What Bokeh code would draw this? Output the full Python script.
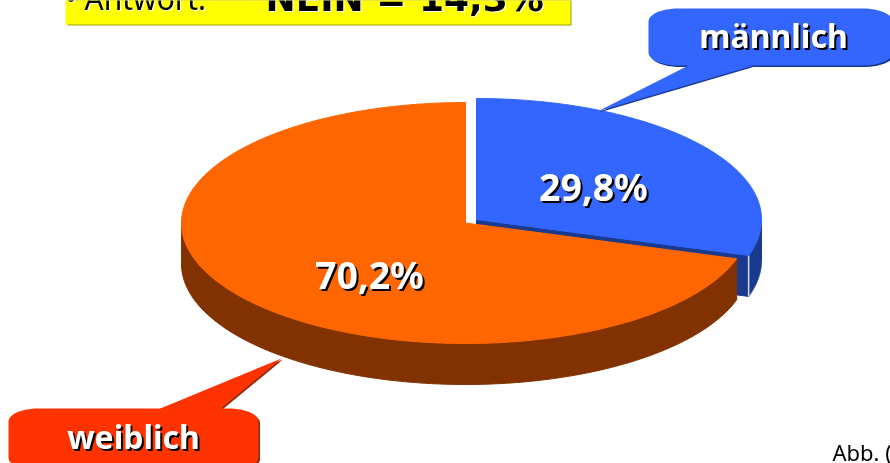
import numpy as np
from bokeh.plotting import figure
from bokeh.models import Range1d
from bokeh.core.properties import value
from bokeh.embed import file_html
from bokeh.resources import INLINE

categories = ["männlich", "weiblich"]
shares = [29.8, 70.2]
share_labels = ["29,8%", "70,2%"]
answer_label = "• Antwort:"
answer_value = "NEIN = 14,3%"
caption = "Abb. ("

BLUE, BLUE_DARK = "#3366ff", "#1a3a8e"
ORANGE, ORANGE_DARK = "#ff6600", "#823200"
RED = "#ff3300"
W, H = 890, 463

p = figure(width=W, height=H, output_backend="svg", toolbar_location=None,
           x_range=Range1d(0, W), y_range=Range1d(H, 0), min_border=0,
           x_axis_type=None, y_axis_type=None, background_fill_color="white",
           border_fill_color="white", outline_line_color=None)
p.grid.visible = False
p.styles = {"position": "fixed", "left": "0", "top": "0"}

def rim(cx, cy, rx, ry, a0, a1, dy=0, n=160):
    """Points on an ellipse; angles are clockwise from 12 o'clock, in degrees."""
    t = np.radians(np.linspace(a0, a1, n))
    return cx + rx * np.sin(t), cy - ry * np.cos(t) + dy

split = 360 * shares[0] / sum(shares)
DEPTH = 41
bc = (476, 219, 285, 121)   # blue slice: pulled out slightly
oc = (465, 222.5, 284, 120.5)

# --- side walls (back to front)
x1, y1 = rim(*bc, 90, split)
x2, y2 = rim(*bc, split, 90, dy=DEPTH)
p.patch(np.r_[x1, x2], np.r_[y1, y2], fill_color=BLUE_DARK, line_color=BLUE_DARK)
tx, ty = rim(*bc, split, split, n=1)
p.patch([bc[0], tx[0], tx[0], bc[0]], [bc[1], ty[0], ty[0] + DEPTH, bc[1] + DEPTH],
        fill_color=BLUE_DARK, line_color=BLUE_DARK)
p.line([tx[0], tx[0]], [ty[0], ty[0] + DEPTH], line_color="#d5dcf0", line_width=1.5)

x1, y1 = rim(*oc, split, 270)
x2, y2 = rim(*oc, 270, split, dy=DEPTH)
p.patch(np.r_[x1, x2], np.r_[y1, y2], fill_color=ORANGE_DARK, line_color=ORANGE_DARK)

# --- top faces
x1, y1 = rim(*bc, 0, split)
p.patch(np.r_[bc[0], x1], np.r_[bc[1], y1], fill_color=BLUE, line_color=BLUE)
x1, y1 = rim(*oc, split, 360)
p.patch(np.r_[oc[0], x1], np.r_[oc[1], y1], fill_color=ORANGE, line_color=ORANGE)

# --- callouts
def rounded(x0, y0, x1, y1, rx, ry):
    a = np.linspace(0, np.pi / 2, 16)
    xs = np.r_[x1 - rx + rx * np.sin(a), x1 - rx + rx * np.cos(a),
               x0 + rx - rx * np.sin(a), x0 + rx - rx * np.cos(a)]
    ys = np.r_[y0 + ry - ry * np.cos(a), y1 - ry + ry * np.sin(a),
               y1 - ry + ry * np.cos(a), y0 + ry - ry * np.sin(a)]
    return xs, ys

def callout(box, tail, color, shadow):
    xs, ys = rounded(*box, 30, 13)
    p.patch(xs + 1.5, ys + 1.5, fill_color=shadow, line_color=None)
    p.patch([tail[0] + 1.5, tail[2] + 1.5, tail[4] + 1.5], [tail[1] + 1, tail[3] + 1, tail[5] + 1],
            fill_color=shadow, line_color=None)
    p.patch(xs, ys, fill_color=color, line_color=None)
    p.patch(tail[0::2], tail[1::2], fill_color=color, line_color=None)

callout((648, 8, 892, 65), (690, 64, 753, 65, 597, 111), BLUE, "#1a3a8e")
callout((8, 408, 258, 470), (155, 410, 218, 410, 281, 358), RED, "#8a2a10")

def shadow_text(x, y, s, size, color="white", shade="black", off=2, style="bold", align="center", font="Noto Sans"):
    kw = dict(text_font=value(font), text_font_size=f"{size}px", text_font_style=style,
              text_align=align, text_baseline="middle")
    p.text([x + off], [y + off], text=[s], text_color=shade, **kw)
    p.text([x], [y], text=[s], text_color=color, **kw)

shadow_text(773, 35, categories[0], 32)
shadow_text(133, 436, categories[1], 32)
shadow_text(593, 186, share_labels[0], 37.5)
shadow_text(369, 274, share_labels[1], 37.5)

# --- answer banner
p.quad(left=[67], right=[571], top=[-5], bottom=[25], fill_color="#a0a000", line_color=None)
p.quad(left=[65], right=[570], top=[-5], bottom=[24], fill_color="#ffff00", line_color=None)
shadow_text(65, -2, answer_label, 30, color="black", shade="white", off=1, style="normal", align="left")
shadow_text(265, -2, answer_value, 36, color="black", shade="white", off=1, align="left", font="DejaVu Sans")

p.text([832], [451], text=[caption], text_color="black", text_font=value("Noto Sans"), text_font_size="22px",
       text_align="left", text_baseline="middle")

open("out.html", "w").write(file_html(p, INLINE))
